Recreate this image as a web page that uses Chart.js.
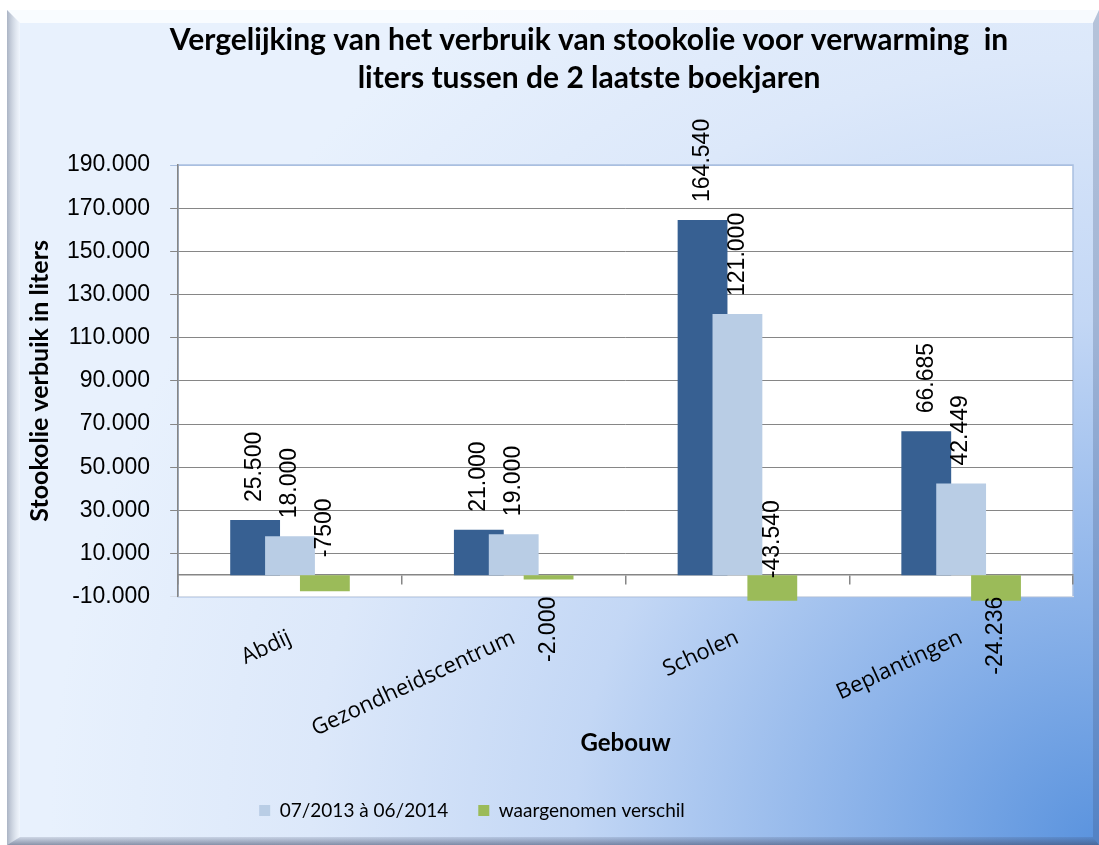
<!DOCTYPE html>
<html>
<head>
<meta charset="utf-8">
<script src="https://cdn.jsdelivr.net/npm/chart.js@4/dist/chart.umd.min.js"></script>
<style>
  html, body { margin: 0; padding: 0; background: #fff; }
  #wrap { width: 1099px; height: 845px; }
</style>
</head>
<body>
<div id="wrap"><canvas id="chart" width="1099" height="845"></canvas></div>
<script>
// Values
const categories = ["Abdij", "Gezondheidscentrum", "Scholen", "Beplantingen"];
const seriesNames = ["07/2012 à 06/2013", "07/2013 à 06/2014", "waargenomen verschil"];
const usagePrev = [25500, 21000, 164540, 66685];
const usageLast = [18000, 19000, 121000, 42449];
const difference = [-7500, -2000, -43540, -24236];
// the difference labels are typed as they appear (note "-7500")
const differenceLabels = ["-7500", "-2.000", "-43.540", "-24.236"];
const yMin = -10000;
const yMax = 190000;
const yStep = 20000;

const COLORS = ["#376092", "#b9cde5", "#9bbb59"];
const GRID = "#868686";

function nl(v) {
  const s = String(Math.abs(v)).replace(/\B(?=(\d{3})+(?!\d))/g, ".");
  return (v < 0 ? "-" : "") + s;
}

// Bevelled blue panel behind everything, white plot area on top of it.
const backdrop = {
  id: "backdrop",
  beforeDraw(chart) {
    const { ctx, width, height, chartArea: a } = chart;
    const L = 7, T = 10, R = width, B = height;
    ctx.save();
    ctx.fillStyle = "#fff";
    ctx.fillRect(0, 0, width, height);
    const g = ctx.createRadialGradient(width, height, 0, width, height, 1050);
    g.addColorStop(0, "#5a93de");
    g.addColorStop(0.25, "#8fb5ea");
    g.addColorStop(0.5, "#c3d7f5");
    g.addColorStop(0.75, "#dce8fa");
    g.addColorStop(1, "#e8f1fd");
    ctx.fillStyle = g;
    ctx.fillRect(L, T, R - L, B - T);
    const bw = 13;
    // top bevel
    ctx.fillStyle = "rgba(255,255,255,0.75)";
    ctx.beginPath();
    ctx.moveTo(L, T); ctx.lineTo(R, T); ctx.lineTo(R - 6, T + bw); ctx.lineTo(L + bw, T + bw);
    ctx.closePath(); ctx.fill();
    // left bevel
    const lg = ctx.createLinearGradient(L, 0, L + bw, 0);
    lg.addColorStop(0, "rgba(120,130,150,0.55)");
    lg.addColorStop(1, "rgba(255,255,255,0.35)");
    ctx.fillStyle = lg;
    ctx.beginPath();
    ctx.moveTo(L, T); ctx.lineTo(L + bw, T + bw); ctx.lineTo(L + bw, B - 8); ctx.lineTo(L, B);
    ctx.closePath(); ctx.fill();
    // bottom bevel
    const bg = ctx.createLinearGradient(0, B - 8, 0, B);
    bg.addColorStop(0, "rgba(60,70,100,0.15)");
    bg.addColorStop(1, "rgba(60,70,100,0.55)");
    ctx.fillStyle = bg;
    ctx.beginPath();
    ctx.moveTo(L, B); ctx.lineTo(L + bw, B - 8); ctx.lineTo(R - 6, B - 8); ctx.lineTo(R, B);
    ctx.closePath(); ctx.fill();
    // right bevel
    ctx.fillStyle = "rgba(60,80,120,0.25)";
    ctx.beginPath();
    ctx.moveTo(R, T); ctx.lineTo(R, B); ctx.lineTo(R - 6, B - 8); ctx.lineTo(R - 6, T + bw);
    ctx.closePath(); ctx.fill();
    // plot area
    ctx.fillStyle = "#fff";
    ctx.fillRect(a.left, a.top, a.width, a.height);
    ctx.strokeStyle = "#a9bfe0";
    ctx.lineWidth = 1.5;
    ctx.strokeRect(a.left, a.top, a.width, a.height);
    ctx.restore();
  },
};

// Title and legend in the original sit off-centre; nudge their boxes.
const nudge = {
  id: "nudge",
  afterLayout(chart, args, opts) {
    if (chart.titleBlock) {
      chart.titleBlock.left += opts.title;
      chart.titleBlock.right += opts.title;
    }
    if (chart.legend) {
      chart.legend.left += opts.legend;
      chart.legend.right += opts.legend;
    }
  },
};

// Draw the overlapping bars left to right (later one on top, as in Excel),
// then the rotated value labels.
const barsAndLabels = {
  id: "barsAndLabels",
  beforeDatasetsDraw(chart, args, opts) {
    const { ctx, chartArea: a } = chart;
    const metas = chart.getSortedVisibleDatasetMetas().slice().sort((m, n) => m.index - n.index);
    ctx.save();
    ctx.beginPath();
    ctx.rect(a.left, a.top, a.width, a.height + opts.overflow);
    ctx.clip();
    metas.forEach((m) => m.controller.draw());
    ctx.restore();

    ctx.save();
    ctx.font = opts.font;
    ctx.fillStyle = "#000";
    ctx.textBaseline = "middle";
    metas.forEach((m) => {
      const ds = chart.data.datasets[m.index];
      m.data.forEach((bar, i) => {
        const v = ds.data[i];
        const text = ds.valueLabels ? ds.valueLabels[i] : nl(v);
        const side = v >= 0 ? "top" : ds.labelSide[i];
        let y, align = "left";
        if (side === "top") {
          y = bar.y - opts.gap;
        } else if (side === "above") {
          y = bar.base - opts.gap;
        } else if (side === "across") {
          y = bar.base + 3;
        } else {
          y = Math.min(bar.y + opts.gap, a.bottom);
          align = "right";
        }
        ctx.save();
        ctx.translate(bar.x, y);
        ctx.rotate(-Math.PI / 2);
        ctx.textAlign = align;
        ctx.fillText(text, 0, 0);
        ctx.restore();
      });
    });
    ctx.restore();
    return false;
  },
};

const datasets = [
  { label: seriesNames[0], data: usagePrev, backgroundColor: COLORS[0] },
  { label: seriesNames[1], data: usageLast, backgroundColor: COLORS[1] },
  {
    label: seriesNames[2],
    data: difference,
    backgroundColor: COLORS[2],
    valueLabels: differenceLabels,
    labelSide: ["above", "below", "across", "below"],
  },
];

new Chart(document.getElementById("chart"), {
  type: "bar",
  data: { labels: categories, datasets },
  plugins: [backdrop, nudge, barsAndLabels],
  options: {
    responsive: false,
    animation: false,
    events: [],
    // bars 50px wide, 35px apart, so neighbours overlap
    categoryPercentage: 0.4677,
    barPercentage: 1.4286,
    layout: { padding: { left: 21, right: 26, top: 0, bottom: 15 } },
    scales: {
      x: {
        position: "bottom",
        grid: { display: false },
        border: { display: true, color: "#d6dde8", width: 1 },
        ticks: {
          color: "#000",
          font: { family: "'Open Sans', sans-serif", size: 22 },
          minRotation: 25,
          maxRotation: 25,
          padding: 20,
          autoSkip: false,
        },
        title: {
          display: true,
          text: "Gebouw",
          color: "#000",
          font: { family: "Lato, sans-serif", size: 24, weight: "bold" },
          padding: { top: -33, bottom: 13 },
        },
      },
      x2: {
        type: "category",
        position: { y: 0 },
        offset: true,
        grid: { offset: true, drawOnChartArea: false, tickLength: 9, color: GRID, lineWidth: 1.5 },
        border: { display: true, color: GRID, width: 1.5 },
        ticks: { display: false },
      },
      y: {
        min: yMin,
        max: yMax,
        grid: {
          tickLength: 8,
          lineWidth: 1,
          color: (c) => (c.tick && c.tick.value === yMax ? "#a9bfe0" : c.tick && c.tick.value === yMin ? "#d6dde8" : GRID),
        },
        border: { display: true, color: GRID, width: 1.5 },
        ticks: {
          stepSize: yStep,
          color: "#000",
          padding: 20,
          font: { family: "'Liberation Sans', Arial, sans-serif", size: 23 },
          callback: (v) => nl(v),
        },
        title: {
          display: true,
          text: "Stookolie verbuik in liters",
          color: "#000",
          font: { family: "Lato, sans-serif", size: 25, weight: "bold" },
          padding: { top: 4, bottom: -8 },
        },
      },
    },
    plugins: {
      title: {
        display: true,
        text: [
          "Vergelijking van het verbruik van stookolie voor verwarming  in",
          "liters tussen de 2 laatste boekjaren",
        ],
        color: "#000",
        font: { family: "Lato, sans-serif", size: 30, weight: "bold", lineHeight: 1.2667 },
        padding: { top: 21, bottom: 68 },
      },
      legend: {
        position: "bottom",
        labels: {
          color: "#000",
          boxWidth: 11,
          boxHeight: 11,
          padding: 30,
          font: { family: "Lato, sans-serif", size: 19 },
          filter: (item) => item.datasetIndex > 0,
        },
      },
      tooltip: { enabled: false },
      nudge: { title: 42, legend: -75 },
      barsAndLabels: {
        gap: 18,
        overflow: 4,
        font: "23px 'Liberation Sans', Arial, sans-serif",
      },
    },
  },
});
</script>
</body>
</html>
